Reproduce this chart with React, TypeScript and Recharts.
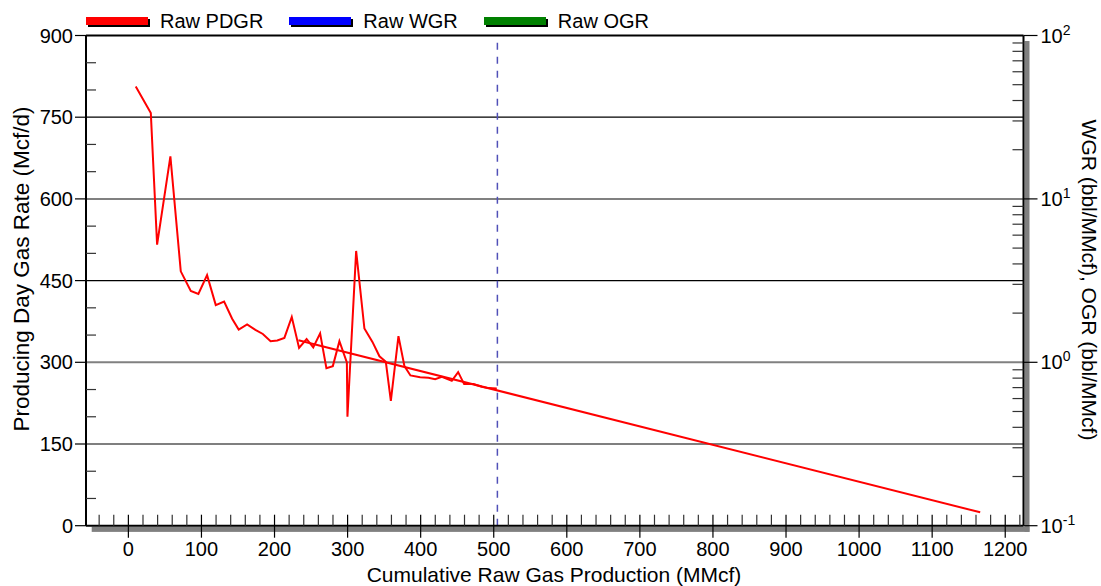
import React from 'react';
import { LineChart, Line, XAxis, YAxis, ReferenceLine } from 'recharts';

const W = 1101;
const H = 586;
const PLOT = { left: 86, top: 35.5, right: 1023.5, bottom: 525.7 };
const FONT = '"Liberation Sans", Arial, Helvetica, sans-serif';

// Raw PDGR history (cumulative MMcf, Mcf/d)
const pdgrCum = [
  10.1, 30.7, 39.3, 57.5, 71.7, 85.4, 95.8, 107.7, 119.6, 131, 142, 151, 162.5, 173.8, 184,
  194.6, 203.8, 213.5, 223.6, 233.6, 243.9, 253, 262.4, 271, 279.8, 288.8, 299, 299.8, 311.7,
  323, 334, 343.6, 352.3, 359.2, 369.6, 377.8, 386, 399.3, 410.6, 419.8, 429, 442.6, 451.3,
  459.5, 472.2, 483.7, 492.7, 504.2,
];
const pdgrRate = [
  806.5, 757.5, 516, 678, 467, 431, 425.5, 460, 405, 411.6, 380, 360, 369.4, 359.5, 352,
  338.8, 340, 344.8, 383.3, 326.5, 342.8, 327.4, 353, 289, 293, 338.8, 299.7, 200, 504.4,
  362, 337.5, 311, 300.8, 229.3, 348, 293, 275.9, 272.7, 271.5, 269, 273.3, 266, 282,
  260, 260, 255, 252.6, 252,
];
// Decline forecast
const forecastCum = [232.7, 1165.7];
const forecastRate = [340.6, 24.6];

const cutoffCum = 505;

const xDomain = [-58, 1225];
const xMajorTicks = [0, 100, 200, 300, 400, 500, 600, 700, 800, 900, 1000, 1100, 1200];
const leftDomain = [0, 900];
const leftMajorTicks = [0, 150, 300, 450, 600, 750, 900];
const leftGridBlack = [150, 450, 750];
const rightDomain = [0.1, 100];
const rightMajorTicks = [0.1, 1, 10, 100];
const rightMajorExp = ['-1', '0', '1', '2'];
const rightGridGray = [1, 10];

const legendItems = [
  { name: 'Raw PDGR', color: '#ff0000' },
  { name: 'Raw WGR', color: '#0000ff' },
  { name: 'Raw OGR', color: '#008000' },
];

const xTicks: number[] = [];
for (let v = -40; v <= 1220; v += 20) xTicks.push(v);
const leftTicks: number[] = [];
for (let v = 0; v <= 900; v += 50) leftTicks.push(v);
const rightTicks: number[] = [];
[0.1, 1, 10].forEach((d) => {
  for (let k = 1; k <= 9; k++) rightTicks.push(+(d * k).toPrecision(3));
});
rightTicks.push(100);

const pdgrData = pdgrCum.map((c, i) => ({ cum: c, rate: pdgrRate[i] }));
const forecastData = forecastCum.map((c, i) => ({ cum: c, rate: forecastRate[i] }));

const XTick = (props: any) => {
  const { x, y, payload } = props;
  const v = payload.value;
  const major = xMajorTicks.includes(v);
  return (
    <g>
      <line x1={x} x2={x} y1={y} y2={y - 11} stroke={major ? '#000' : '#333'} strokeWidth={1.2} />
      {major && <line x1={x} x2={x} y1={y} y2={y + 12} stroke="#000" strokeWidth={1.2} />}
      {major && (
        <text x={x} y={y + 30} textAnchor="middle" fontSize={20} fontFamily={FONT} fill="#000">
          {v}
        </text>
      )}
    </g>
  );
};

const LeftTick = (props: any) => {
  const { x, y, payload } = props;
  const v = payload.value;
  const major = leftMajorTicks.includes(v);
  if (major) {
    return (
      <g>
        <line x1={x} x2={x - 11} y1={y} y2={y} stroke="#000" strokeWidth={1.2} />
        <text x={x - 13} y={y + 7} textAnchor="end" fontSize={20} fontFamily={FONT} fill="#000">
          {v}
        </text>
      </g>
    );
  }
  return <line x1={x} x2={x + 10} y1={y} y2={y} stroke="#333" strokeWidth={1.2} />;
};

const RightTick = (props: any) => {
  const { x, y, payload } = props;
  const v = payload.value;
  const idx = rightMajorTicks.findIndex((m) => Math.abs(m - v) < 1e-9);
  if (idx >= 0) {
    return (
      <g>
        <line x1={x} x2={x + 14} y1={y} y2={y} stroke="#000" strokeWidth={1.2} />
        <text x={x + 17} y={y + 7} textAnchor="start" fontSize={20} fontFamily={FONT} fill="#000">
          10
          <tspan fontSize={14} dy={-8}>{rightMajorExp[idx]}</tspan>
        </text>
      </g>
    );
  }
  return <line x1={x} x2={x - 11} y1={y} y2={y} stroke="#333" strokeWidth={1.2} />;
};

export default function App() {
  return (
    <div style={{ position: 'absolute', left: 0, top: 0, width: W, height: H, background: '#fff', fontFamily: FONT }}>
      <svg width={W} height={H} style={{ position: 'absolute', left: 0, top: 0 }}>
        <rect x={PLOT.left + 5.7} y={PLOT.bottom + 1} width={PLOT.right + 6 - PLOT.left - 5.7} height={5.2} fill="#808080" />
        <rect x={PLOT.right + 1} y={PLOT.top + 5.5} width={5} height={PLOT.bottom + 6.2 - PLOT.top - 5.5} fill="#808080" />
      </svg>
      <div style={{ position: 'absolute', left: 0, top: 0 }}>
        <LineChart
          width={W}
          height={H}
          margin={{ top: PLOT.top - 1, left: PLOT.left - 1, right: W - PLOT.right - 1, bottom: H - PLOT.bottom - 1 }}
        >
          <XAxis
            xAxisId="x"
            dataKey="cum"
            type="number"
            domain={xDomain}
            allowDataOverflow
            ticks={xTicks}
            interval={0}
            height={1}
            tickSize={0}
            tickMargin={0}
            tick={<XTick />}
            tickLine={false}
            axisLine={{ stroke: '#000', strokeWidth: 2 }}
          />
          <XAxis
            xAxisId="top"
            orientation="top"
            dataKey="cum"
            type="number"
            domain={xDomain}
            allowDataOverflow
            height={1}
            tick={false}
            tickLine={false}
            axisLine={{ stroke: '#000', strokeWidth: 2 }}
          />
          <YAxis
            yAxisId="left"
            type="number"
            domain={leftDomain}
            allowDataOverflow
            ticks={leftTicks}
            interval={0}
            width={1}
            tickSize={0}
            tickMargin={0}
            tick={<LeftTick />}
            tickLine={false}
            axisLine={{ stroke: '#000', strokeWidth: 2 }}
          />
          <YAxis
            yAxisId="right"
            orientation="right"
            type="number"
            scale="log"
            domain={rightDomain}
            allowDataOverflow
            ticks={rightTicks}
            interval={0}
            width={1}
            tickSize={0}
            tickMargin={0}
            tick={<RightTick />}
            tickLine={false}
            axisLine={{ stroke: '#000', strokeWidth: 2 }}
          />
          {leftGridBlack.map((v) => (
            <ReferenceLine key={'gl' + v} xAxisId="x" yAxisId="left" y={v} stroke="#000" strokeWidth={1.2} />
          ))}
          {rightGridGray.map((v) => (
            <ReferenceLine key={'gr' + v} xAxisId="x" yAxisId="right" y={v} stroke="#808080" strokeWidth={2} />
          ))}
          <ReferenceLine
            xAxisId="x"
            yAxisId="left"
            x={cutoffCum}
            stroke="#5050b8"
            strokeWidth={1.5}
            strokeDasharray="7 7"
          />
          <Line
            data={forecastData}
            xAxisId="x"
            yAxisId="left"
            dataKey="rate"
            stroke="#ff0000"
            strokeWidth={2}
            dot={false}
            activeDot={false}
            isAnimationActive={false}
            type="linear"
          />
          <Line
            data={pdgrData}
            xAxisId="x"
            yAxisId="left"
            dataKey="rate"
            stroke="#ff0000"
            strokeWidth={2}
            dot={false}
            activeDot={false}
            isAnimationActive={false}
            type="linear"
          />
        </LineChart>
      </div>
      <svg width={W} height={H} style={{ position: 'absolute', left: 0, top: 0, pointerEvents: 'none' }}>
        <text
          transform="translate(29, 269) rotate(-90)"
          textAnchor="middle"
          fontSize={22.5}
          fontFamily={FONT}
          fill="#000"
        >
          Producing Day Gas Rate (Mcf/d)
        </text>
        <text x={554} y={582} textAnchor="middle" fontSize={21} fontFamily={FONT} fill="#000">
          Cumulative Raw Gas Production (MMcf)
        </text>
        <text
          transform="translate(1082, 280) rotate(90)"
          textAnchor="middle"
          fontSize={21}
          fontFamily={FONT}
          fill="#000"
        >
          WGR (bbl/MMcf), OGR (bbl/MMcf)
        </text>
      </svg>
      <div
        style={{
          position: 'absolute',
          left: PLOT.left,
          top: 10.5,
          display: 'flex',
          alignItems: 'center',
          fontSize: 20,
          lineHeight: '20px',
          fontFamily: FONT,
          color: '#000',
          whiteSpace: 'nowrap',
        }}
      >
        {legendItems.map((it) => (
          <div key={it.name} style={{ display: 'flex', alignItems: 'center', marginRight: 26 }}>
            <span
              style={{
                display: 'inline-block',
                width: 62,
                height: 8,
                background: it.color,
                boxShadow: '2px 2px 0 #000',
                marginRight: 12,
              }}
            />
            <span>{it.name}</span>
          </div>
        ))}
      </div>
    </div>
  );
}
